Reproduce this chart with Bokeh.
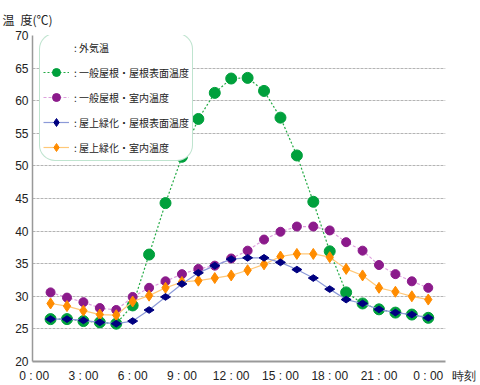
from bokeh.plotting import figure
from bokeh.models import Legend, LegendItem, FixedTicker
from bokeh.embed import file_html
from bokeh.resources import INLINE

hours = list(range(1, 25))
roof_surface = [26.5, 26.5, 26.2, 26.0, 25.8, 28.6, 36.4, 44.3, 51.4, 57.2, 61.2, 63.4,
                63.5, 61.5, 57.4, 51.6, 44.5, 36.9, 30.6, 28.9, 28.0, 27.5, 27.2, 26.7]
roof_indoor = [30.6, 29.8, 29.1, 28.2, 27.9, 29.9, 31.3, 32.3, 33.4, 34.2, 34.7, 35.8,
               37.0, 38.7, 39.9, 40.7, 40.7, 40.1, 38.3, 37.0, 34.8, 33.4, 32.3, 31.3]
green_surface = [26.5, 26.5, 26.3, 26.0, 25.8, 26.2, 27.9, 29.9, 31.9, 33.6, 34.7, 35.7,
                 35.9, 35.9, 35.2, 34.1, 32.8, 31.1, 29.5, 28.9, 28.0, 27.5, 27.2, 26.7]
green_indoor = [28.9, 28.5, 27.8, 27.2, 27.1, 29.2, 30.1, 31.3, 32.2, 32.4, 32.8, 33.2,
                34.0, 34.9, 36.1, 36.5, 36.5, 36.0, 34.2, 33.2, 31.3, 30.7, 30.0, 29.5]
x_ticks = [0, 3, 6, 9, 12, 15, 18, 21, 24, 25]
x_tick_labels = ["0 : 00", "3 : 00", "6 : 00", "9 : 00", "12 : 00", "15 : 00",
                 "18 : 00", "21 : 00", "0 : 00", "\u2003\u2003\u2003\u2004時刻"]
y_ticks = [20, 25, 30, 35, 40, 45, 50, 55, 60, 65, 70]
legend_labels = [": 外気温", ": 一般屋根・屋根表面温度", ": 一般屋根・室内温度",
                 ": 屋上緑化・屋根表面温度", ": 屋上緑化・室内温度"]

JP = "Noto Sans CJK JP"
NUM = "Liberation Sans"

W, H = 476, 385
BL, BR, BT, BB = 32, 31, 35, 20
FH = H - BT - BB

p = figure(width=W, height=H, x_range=(-0.1, 25.05), y_range=(20, 70),
           output_backend="svg", toolbar_location=None,
           min_border_left=BL, min_border_right=BR, min_border_top=BT, min_border_bottom=BB)
p.outline_line_color = None
p.background_fill_color = "white"

p.title.text = "温\u2002度(℃)"
p.title.text_font = JP
p.title.text_font_size = "12px"
p.title.text_font_style = "normal"
p.title.text_color = "#222222"
p.title.align = "left"
p.title.offset = -30
p.title.standoff = 16

p.xgrid.grid_line_color = None
p.ygrid.grid_line_color = "#b4b4b4"
p.ygrid.grid_line_dash = "3 1"
p.ygrid.ticker = FixedTicker(ticks=y_ticks)

p.xaxis.ticker = FixedTicker(ticks=x_ticks)
p.xaxis.major_label_overrides = {t: l for t, l in zip(x_ticks, x_tick_labels)}
p.yaxis.ticker = FixedTicker(ticks=y_ticks)
for ax in (p.xaxis, p.yaxis):
    ax.axis_line_color = "#999999"
    ax.major_tick_line_color = None
    ax.minor_tick_line_color = None
    ax.major_tick_out = 0
    ax.major_label_text_font = NUM
    ax.major_label_text_font_size = "12px"
    ax.major_label_text_color = "#222222"
    ax.major_label_standoff = 4
p.xaxis.axis_line_width = 2
p.yaxis.axis_line_width = 1.5
p.xaxis.major_label_standoff = 7

dummy = p.line([], [], line_alpha=0)

l1 = p.line(hours, roof_surface, line_color="#22aa44", line_width=1.2, line_dash="2 2")
m1 = p.scatter(hours, roof_surface, marker="circle", size=11, fill_color="#00a03c",
               line_color="#00a03c")
l2 = p.line(hours, roof_indoor, line_color="#dda0dd", line_width=1.2, line_dash="3 2")
m2 = p.scatter(hours, roof_indoor, marker="circle", size=9, fill_color="#8b1a8b",
               line_color="#8b1a8b")
l4 = p.line(hours, green_indoor, line_color="#ffc878", line_width=1.2)
m4 = p.scatter(hours, green_indoor, marker="diamond", size=11, fill_color="#ff8c00",
               line_color="#ff8c00")
l3 = p.line(hours, green_surface, line_color="#8c9ad8", line_width=1.2)
m3 = p.scatter(hours, green_surface, marker="diamond", size=10, angle=1.5708,
               fill_color="#000080", line_color="#000080")

LEG_H = 126
legend = Legend(items=[
    LegendItem(label=legend_labels[0], renderers=[dummy]),
    LegendItem(label=legend_labels[1], renderers=[l1, m1]),
    LegendItem(label=legend_labels[2], renderers=[l2, m2]),
    LegendItem(label=legend_labels[3], renderers=[l3, m3]),
    LegendItem(label=legend_labels[4], renderers=[l4, m4]),
])
legend.margin = 0
legend.padding = 3
legend.spacing = 5
legend.glyph_height = 20
legend.glyph_width = 26
legend.label_height = 20
legend.label_width = 113
legend.label_standoff = 5
legend.label_text_font = JP
legend.label_text_font_size = "10px"
legend.label_text_color = "#222222"
legend.border_line_color = "#7fc9a0"
legend.border_line_width = 1
legend.background_fill_color = "white"
legend.background_fill_alpha = 1.0
if "border_radius" in legend.properties():
    legend.border_radius = 16
legend.location = (7, FH - 4 - LEG_H)
p.add_layout(legend, "center")

open("out.html", "w").write(file_html(p, INLINE))
